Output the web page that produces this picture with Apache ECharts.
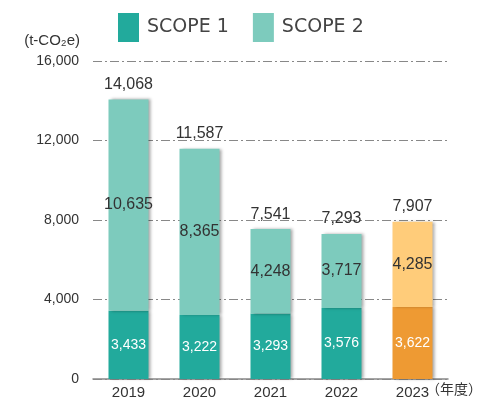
<!DOCTYPE html>
<html><head><meta charset="utf-8">
<script src="https://cdn.jsdelivr.net/npm/echarts@6/dist/echarts.min.js"></script>
<style>html,body{margin:0;padding:0;background:#fff}#c{width:485px;height:404px}</style>
</head><body><div id="c"></div>
<script>
var years = ['2019','2020','2021','2022','2023'];
var scope1 = [3433,3222,3293,3576,3622];
var scope2 = [10635,8365,4248,3717,4285];
var totals = [14068,11587,7541,7293,7907];
var yTicks = [0,4000,8000,12000,16000];

var C1 = '#22AA9C', C2 = '#7DCBBD', O1 = '#EE9A33', O2 = '#FFCC7A';
var NF = '"Liberation Sans",Arial,sans-serif';
function fmt(v){return v.toLocaleString('en-US');}
var hl = years.length-1;
var shadow = {shadowColor:'rgba(0,0,0,0.35)',shadowBlur:3,shadowOffsetX:2,shadowOffsetY:0};

var chart = echarts.init(document.getElementById('c'));
chart.setOption({
  animation:false,
  legend:{top:8,left:113,itemWidth:21,itemHeight:29,itemGap:24,icon:'rect',
    textStyle:{fontFamily:'"DejaVu Sans",sans-serif',fontSize:19,color:'#444',padding:[0,0,0,3]},
    data:['SCOPE 1','SCOPE 2']},
  grid:{left:93,right:37,top:61,bottom:25},
  xAxis:{type:'category',data:years,
    axisLine:{lineStyle:{color:'#888',width:1.5}},axisTick:{show:false},
    axisLabel:{fontFamily:NF,fontSize:15,color:'#333',margin:6}},
  yAxis:{type:'value',min:yTicks[0],max:yTicks[yTicks.length-1],interval:4000,
    name:'(t-CO₂e)',nameLocation:'end',nameGap:13,
    nameTextStyle:{fontFamily:NF,fontSize:15,color:'#333',align:'right',padding:[0,13,0,0]},
    axisLine:{show:false},axisTick:{show:false},
    axisLabel:{fontFamily:NF,fontSize:14,color:'#333',margin:14,formatter:function(v){return fmt(v);}},
    splitLine:{lineStyle:{color:'#888',type:[9,3,2,3],width:1}}},
  graphic:[{type:'text',left:426,top:382,style:{text:'（年度）',font:'14px "Noto Sans CJK JP",sans-serif',fill:'#333'}}],
  series:[
    {name:'SCOPE 1',type:'bar',stack:'s',barWidth:40,
      itemStyle:Object.assign({color:C1},shadow),
      data:scope1.map(function(v,i){return i===hl?{value:v,itemStyle:{color:O1}}:v;}),
      label:{show:true,position:'inside',color:'#fff',fontFamily:NF,fontSize:14,formatter:function(p){return fmt(p.value);}}},
    {name:'SCOPE 2',type:'bar',stack:'s',
      itemStyle:Object.assign({color:C2},shadow),
      data:scope2.map(function(v,i){return i===hl?{value:v,itemStyle:{color:O2}}:v;}),
      label:{show:true,position:'inside',color:'#333',fontFamily:NF,fontSize:16,formatter:function(p){return fmt(p.value);}}},
    {name:'total',type:'bar',stack:'s',
      data:totals.map(function(){return 0;}),
      label:{show:true,position:'top',distance:7,color:'#333',fontFamily:NF,fontSize:16,
        formatter:function(p){return fmt(totals[p.dataIndex]);}}}
  ]
});
</script></body></html>
